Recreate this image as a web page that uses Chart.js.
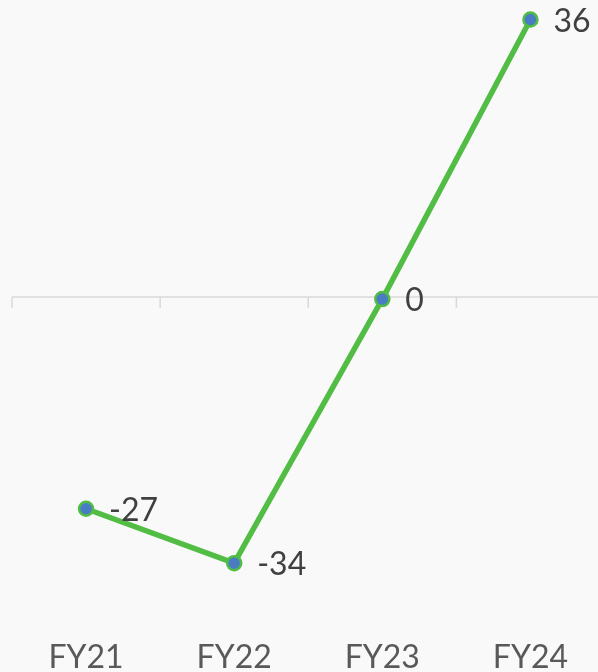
<!DOCTYPE html>
<html lang="en">
<head>
  <meta charset="UTF-8">
  <title>FY line</title>
  <script src="https://cdn.jsdelivr.net/npm/chart.js"></script>
  <style>
    html, body {
      margin: 0;
      padding: 0;
      background-color: #f9f9f9;
      overflow: hidden;
    }

    #chart-container {
      width: 614px;
      height: 672px;
    }
  </style>
</head>
<body>

  <div id="chart-container">
    <canvas id="fyChart" width="614" height="672"></canvas>
  </div>

  <script>
    const categories = ['FY21', 'FY22', 'FY23', 'FY24'];
    const values = [-27, -34, 0, 36];

    // zero line with tick marks between categories
    const zeroAxis = {
      id: 'zeroAxis',
      beforeDatasetsDraw(chart) {
        const { ctx, scales: { x, y } } = chart;
        const y0 = y.getPixelForValue(0) - 2;
        const half = (x.getPixelForValue(1) - x.getPixelForValue(0)) / 2;
        ctx.save();
        ctx.strokeStyle = '#d9d9d9';
        ctx.lineWidth = 1.5;
        ctx.beginPath();
        ctx.moveTo(x.left, y0);
        ctx.lineTo(x.right, y0);
        for (let i = 0; i <= categories.length; i++) {
          const px = x.getPixelForValue(0) - half + i * half * 2;
          ctx.moveTo(px, y0);
          ctx.lineTo(px, y0 + 11);
        }
        ctx.stroke();
        ctx.restore();
      }
    };

    // value labels to the right of each point
    const pointLabels = {
      id: 'pointLabels',
      afterDatasetsDraw(chart) {
        const { ctx } = chart;
        const meta = chart.getDatasetMeta(0);
        ctx.save();
        ctx.font = '32px Lato';
        ctx.fillStyle = '#404040';
        ctx.textAlign = 'left';
        ctx.textBaseline = 'middle';
        meta.data.forEach((pt, i) => {
          ctx.fillText(String(values[i]), pt.x + 23, pt.y + 2);
        });
        ctx.restore();
      }
    };

    const ctx = document.getElementById('fyChart').getContext('2d');

    new Chart(ctx, {
      type: 'line',
      data: {
        labels: categories,
        datasets: [{
          data: values,
          borderColor: '#52bd45',
          borderWidth: 5.5,
          backgroundColor: '#4a7cc4',
          pointBackgroundColor: '#4a7cc4',
          pointBorderColor: '#52bd45',
          pointBorderWidth: 2.5,
          pointRadius: 7,
          pointHoverRadius: 7,
          tension: 0,
          clip: false
        }]
      },
      options: {
        responsive: false,
        animation: false,
        events: [],
        layout: {
          padding: { top: 19.5, left: 12, right: 6, bottom: -9 }
        },
        plugins: {
          legend: { display: false },
          tooltip: { enabled: false }
        },
        scales: {
          x: {
            offset: true,
            grid: { display: false, drawTicks: false },
            border: { display: false },
            ticks: {
              padding: 4,
              color: '#595959',
              font: { family: 'Lato', size: 32 }
            }
          },
          y: {
            display: false,
            min: -43.2,
            max: 36
          }
        }
      },
      plugins: [zeroAxis, pointLabels]
    });
  </script>

</body>
</html>
